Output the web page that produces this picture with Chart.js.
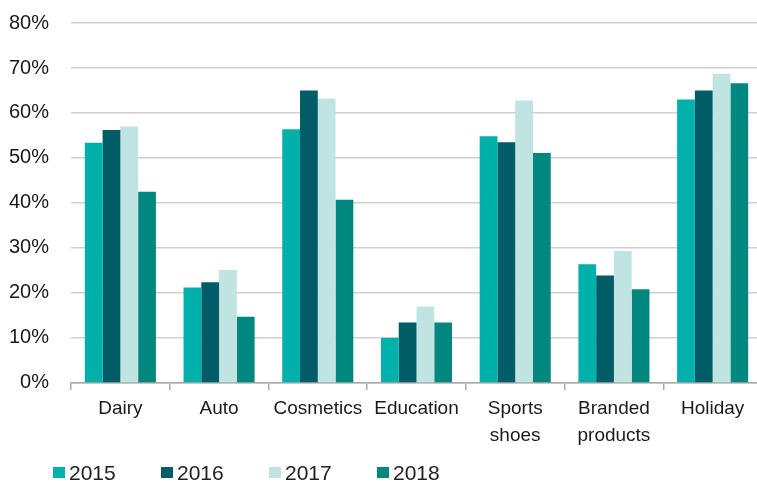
<!DOCTYPE html>
<html>
<head>
<meta charset="utf-8">
<script src="https://cdn.jsdelivr.net/npm/chart.js@4"></script>
<style>
    html, body { margin: 0; padding: 0; background: #fff; overflow: hidden; }
    #wrap { position: relative; width: 757px; height: 484px; overflow: hidden; }
    #chart { position: absolute; left: 0; top: -11px; }
    #legend { position: absolute; left: 53px; top: 459px; font-family: "Liberation Sans", Arial, sans-serif; font-size: 21px; color: #222; }
    .item { display: inline-flex; align-items: center; width: 108px; height: 26px; }
    .box { display: inline-block; width: 12px; height: 11px; margin-right: 4px; }
</style>
</head>
<body>
<div id="wrap">
    <canvas id="chart" width="762" height="495"></canvas>
    <div id="legend"></div>
</div>
<script>
var categories = ['Dairy', 'Auto', 'Cosmetics', 'Education', ['Sports', 'shoes'], ['Branded', 'products'], 'Holiday'];
var years = ['2015', '2016', '2017', '2018'];
var colors = ['#00b0aa', '#005c66', '#c0e4e1', '#008780'];

var y2015 = [53.4, 21.2, 56.4, 10.0, 54.8, 26.4, 63.0];
var y2016 = [56.2, 22.4, 65.0, 13.4, 53.5, 23.9, 65.0];
var y2017 = [57.0, 25.1, 63.2, 17.0, 62.8, 29.3, 68.7];
var y2018 = [42.5, 14.7, 40.7, 13.4, 51.1, 20.8, 66.6];

var yMin = 0, yMax = 80, yStep = 10;

var seriesValues = [y2015, y2016, y2017, y2018];

var datasets = years.map(function (year, i) {
    return {
        label: year,
        data: seriesValues[i],
        backgroundColor: colors[i],
        borderWidth: 0,
        categoryPercentage: 0.72,
        barPercentage: 1.0
    };
});

var ctx = document.getElementById('chart');
var myChart = new Chart(ctx, {
    type: 'bar',
    data: { labels: categories, datasets: datasets },
    options: {
        responsive: false,
        animation: false,
        layout: { padding: { top: 1, bottom: 29, left: 0, right: 0 } },
        plugins: {
            legend: { display: false },
            tooltip: { enabled: false }
        },
        scales: {
            x: {
                border: { color: '#a8a8a8', width: 1.5 },
                grid: { offset: true, drawOnChartArea: false, tickLength: 7, color: '#a8a8a8', lineWidth: 1.5 },
                ticks: {
                    color: '#1a1a1a',
                    padding: 5,
                    maxRotation: 0,
                    autoSkip: false,
                    font: { family: '"Liberation Sans", Arial, sans-serif', size: 19, lineHeight: 1.45 }
                }
            },
            y: {
                min: yMin,
                max: yMax,
                border: { display: false },
                grid: { color: '#d0d0d0', lineWidth: 1.5, drawTicks: false },
                afterFit: function (scale) { scale.width = 71; },
                ticks: {
                    stepSize: yStep,
                    color: '#1a1a1a',
                    padding: 22,
                    font: { family: '"Liberation Sans", Arial, sans-serif', size: 20 },
                    callback: function (value) { return value + '%'; }
                }
            }
        }
    }
});

var legend = document.getElementById('legend');
years.forEach(function (year, i) {
    var item = document.createElement('span');
    item.className = 'item';
    var box = document.createElement('span');
    box.className = 'box';
    box.style.background = colors[i];
    item.appendChild(box);
    item.appendChild(document.createTextNode(year));
    legend.appendChild(item);
});
</script>
</body>
</html>
